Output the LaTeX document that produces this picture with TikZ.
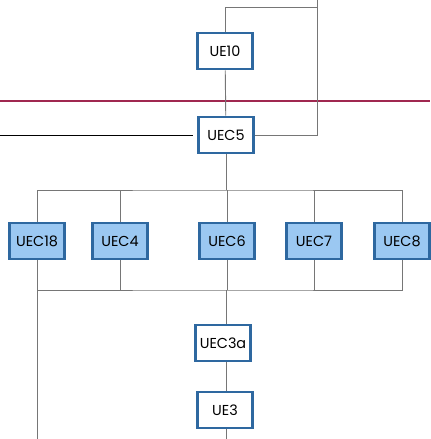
\documentclass[tikz,border=0pt]{standalone}
\usepackage{fontspec}
\setmainfont{Poppins}
\definecolor{boxblue}{RGB}{46,104,160}
\definecolor{fillblue}{RGB}{155,200,242}
\definecolor{wire}{RGB}{118,118,118}
\definecolor{limit}{RGB}{160,40,80}
\tikzset{
  wbox/.style={draw=boxblue, line width=2pt, fill=white, minimum width=41pt, minimum height=27pt, inner sep=0pt, font=\fontsize{10.8}{13}\selectfont},
  bbox/.style={wbox, fill=fillblue},
  wire/.style={draw=wire, line width=0.7pt}
}
\newcommand{\wbx}[4]{
\node[wbox] (#1) at (#2,#3) {#4};}
\newcommand{\bbx}[4]{
\node[bbox] (#1) at (#2,#3) {#4};}

\begin{document}
\begin{tikzpicture}[x=0.75pt,y=-0.75pt]
\useasboundingbox (0,0) rectangle (430,439);

\wbx{ue10}{225}{51}{UE10}
\wbx{uec5}{226}{135}{UEC5}

\bbx{uec18}{37}{241}{UEC18}
\bbx{uec4}{120}{241}{UEC4}
\bbx{uec6}{227}{241}{UEC6}
\bbx{uec7}{314}{241}{UEC7}
\bbx{uec8}{402}{241}{UEC8}

\wbx{uec3a}{223}{343}{UEC3a}
\wbx{ue3}{225}{410}{UE3}

\coordinate (top) at (317,0);
\coordinate (loop) at (317,7);
\coordinate (left) at (0,135);
\coordinate (busT) at (226,190);
\coordinate (busB) at (226,290);
\coordinate (endL) at (37,439);
\coordinate (endR) at (226,439);

% limit line
\draw[limit, line width=0.8pt] (0,101)--(430,101);

% upper part
\draw[line width=0.7pt] (left) -- ([xshift=-3pt]uec5.west);
\draw[wire] (uec5.east) -| (top);
\draw[wire] (ue10) |- (loop);
\draw[wire] (ue10) -- (uec5);

% busses
\draw[wire] (uec5) -- (busT);
\draw[wire] (uec18) |- (busT) -| (uec8);
\foreach \n in {uec4,uec6,uec7}{
	\draw[wire] (\n) -- (\n |- busT);
}
\draw[wire] (uec18) |- (busB) -| (uec8);
\foreach \n in {uec4,uec6,uec7}{
	\draw[wire] (\n) -- (\n |- busB);
}
\draw[wire] (uec18) -- (endL);

% lower part
\draw[wire] (busB) -- (busB |- uec3a.north);
\draw[wire] (busB |- uec3a.south) -- (busB |- ue3.north);
\draw[wire] (busB |- ue3.south) -- (endR);
\end{tikzpicture}
\end{document}
